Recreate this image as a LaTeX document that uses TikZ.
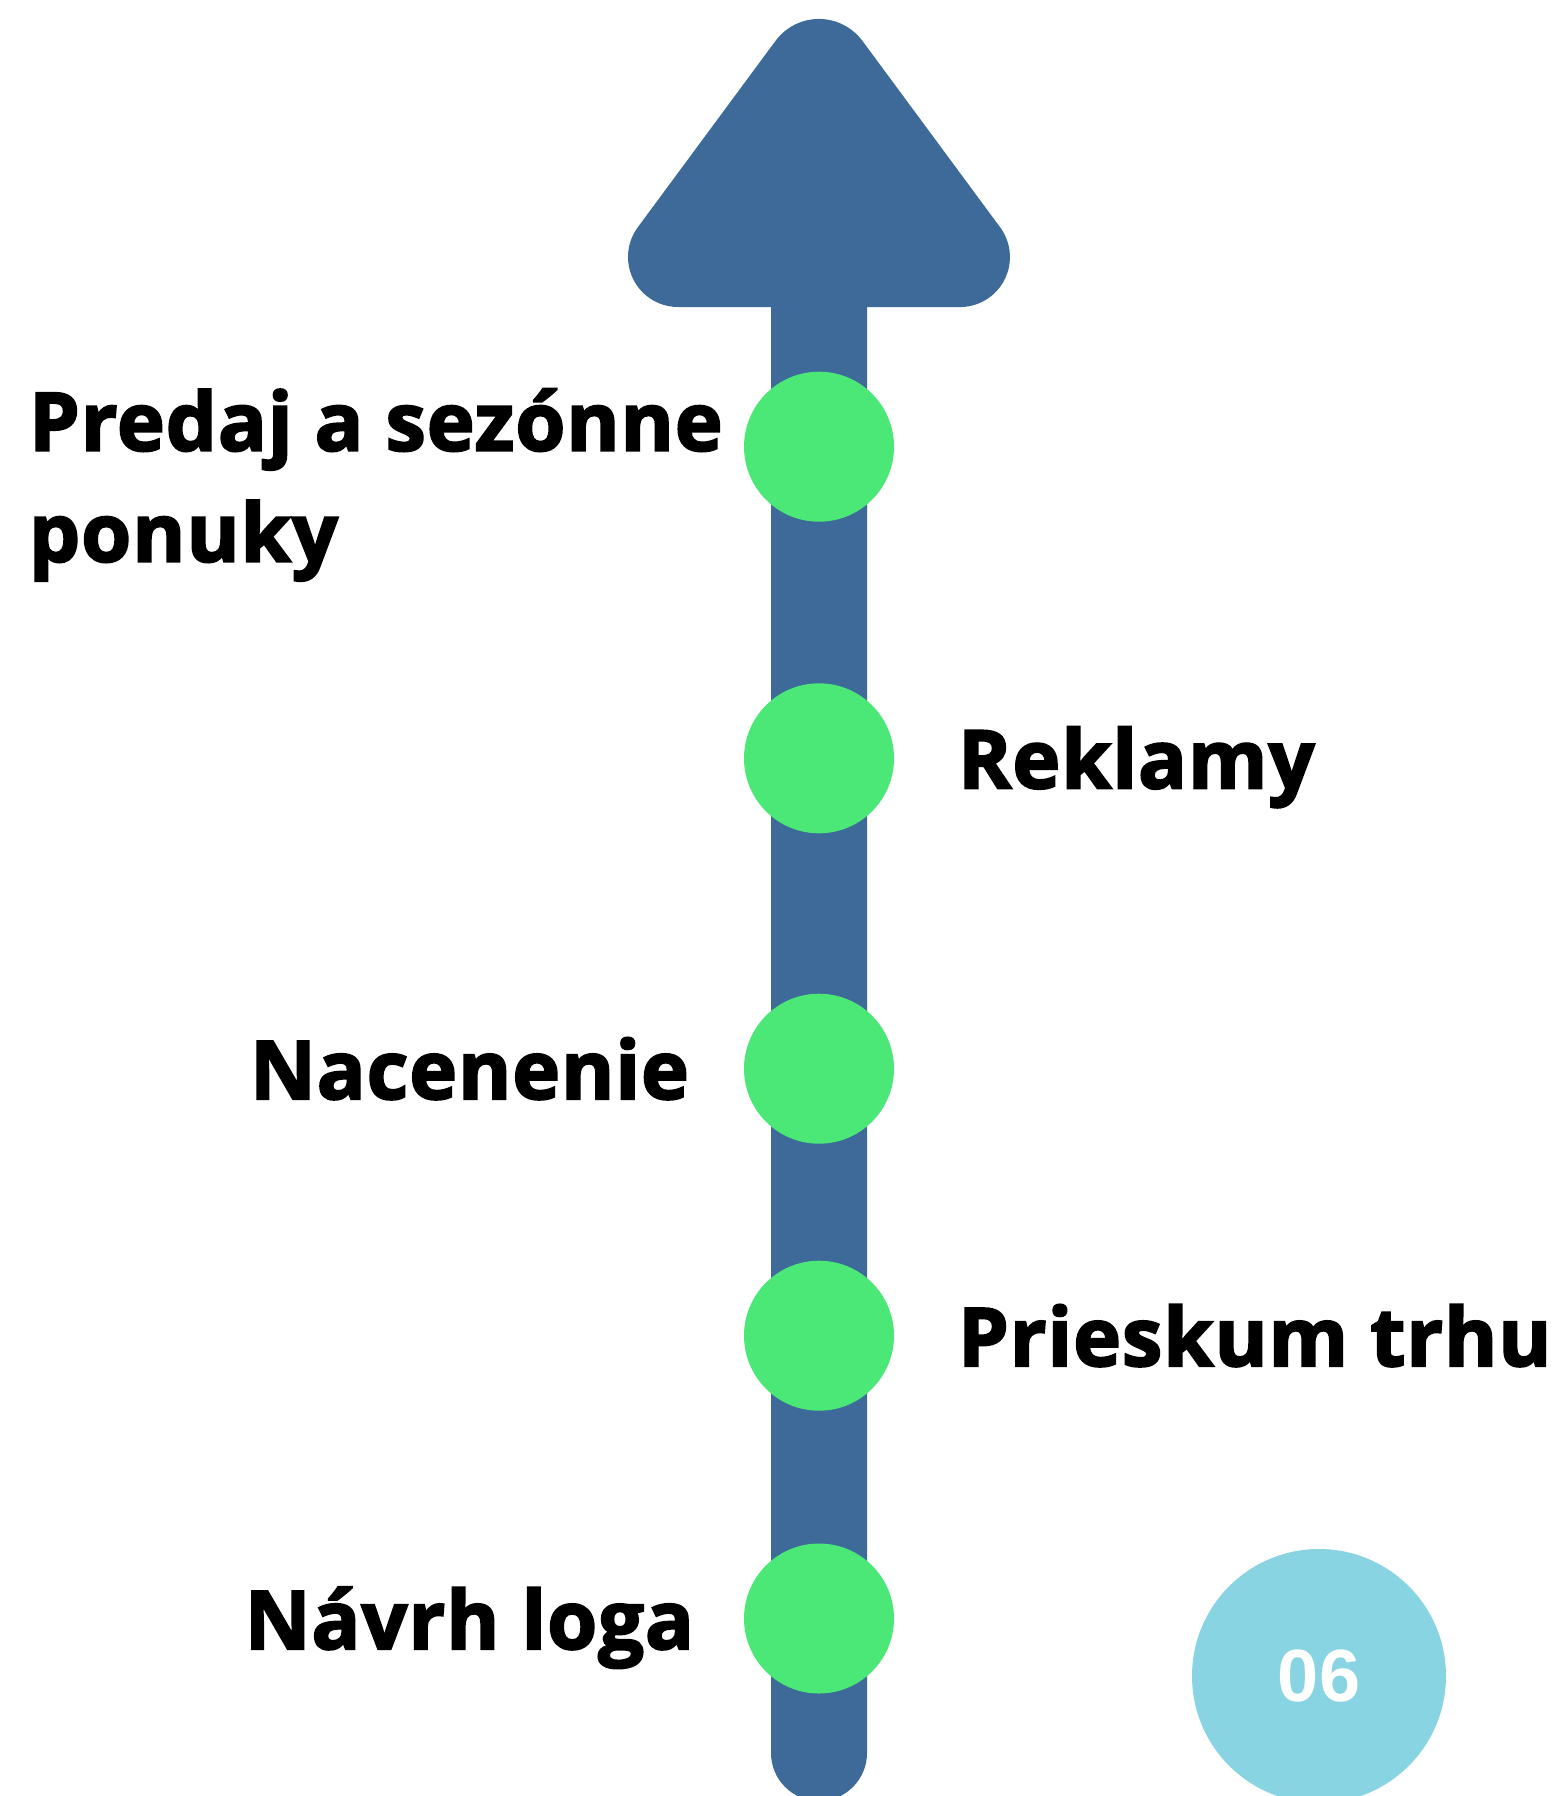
\documentclass[tikz,border=0pt]{standalone}
\usepackage{fontspec}
\setmainfont{Open Sans}[BoldFeatures={FakeBold=2.5,LetterSpace=1.2}]
\newfontfamily\numfont{Liberation Sans}
\definecolor{barblue}{HTML}{3D6A98}
\definecolor{dotgreen}{HTML}{4BE878}
\definecolor{badgeblue}{HTML}{89D4E3}
\begin{document}
\begin{tikzpicture}[x=1pt,y=1pt,
  greendot/.style={circle,fill=dotgreen,draw=none,minimum size=150pt,inner sep=0pt},
  label/.style={inner sep=0pt,outer sep=0pt,font=\fontsize{81}{111}\selectfont\bfseries,text=black},
  badge/.style={circle,fill=badgeblue,draw=none,minimum size=254pt,inner sep=0pt,
    font=\numfont\fontsize{74}{74}\selectfont\bfseries,text=white}]
\useasboundingbox (0,0) rectangle (1560,-1796);
% arrow shaft and head
\fill[barblue] (775.5,-40.9) arc[start angle=143.6,end angle=36.4,radius=54pt]
  -- (1000.2,-227.4) arc[start angle=36.4,end angle=-90,radius=50pt]
  -- (867,-307) -- (867,-1753) arc[start angle=0,end angle=-180,radius=48pt]
  -- (771,-307) -- (678,-307) arc[start angle=270,end angle=143.6,radius=50pt]
  -- cycle;
% dots
\node[greendot] (d1) at (819,-446.7) {};
\node[greendot] (d2) at (819,-758.3) {};
\node[greendot] (d3) at (819,-1068.7) {};
\node[greendot] (d4) at (819,-1335.7) {};
\node[greendot] (d5) at (819,-1618.5) {};
% labels
\node[label,anchor=base west,align=left] (t1) at (29,-561.7) {Predaj a sezónne\\ponuky};
\node[label,anchor=base west] (t2) at (958,-788.3) {Reklamy};
\node[label,anchor=base east] (t3) at (689,-1099) {Nacenenie};
\node[label,anchor=base west] (t4) at (958,-1366) {Prieskum trhu};
\node[label,anchor=base east] (t5) at (694,-1649) {Návrh loga};
% badge
\node[badge] (b) at (1319,-1676) {06};
\end{tikzpicture}
\end{document}
